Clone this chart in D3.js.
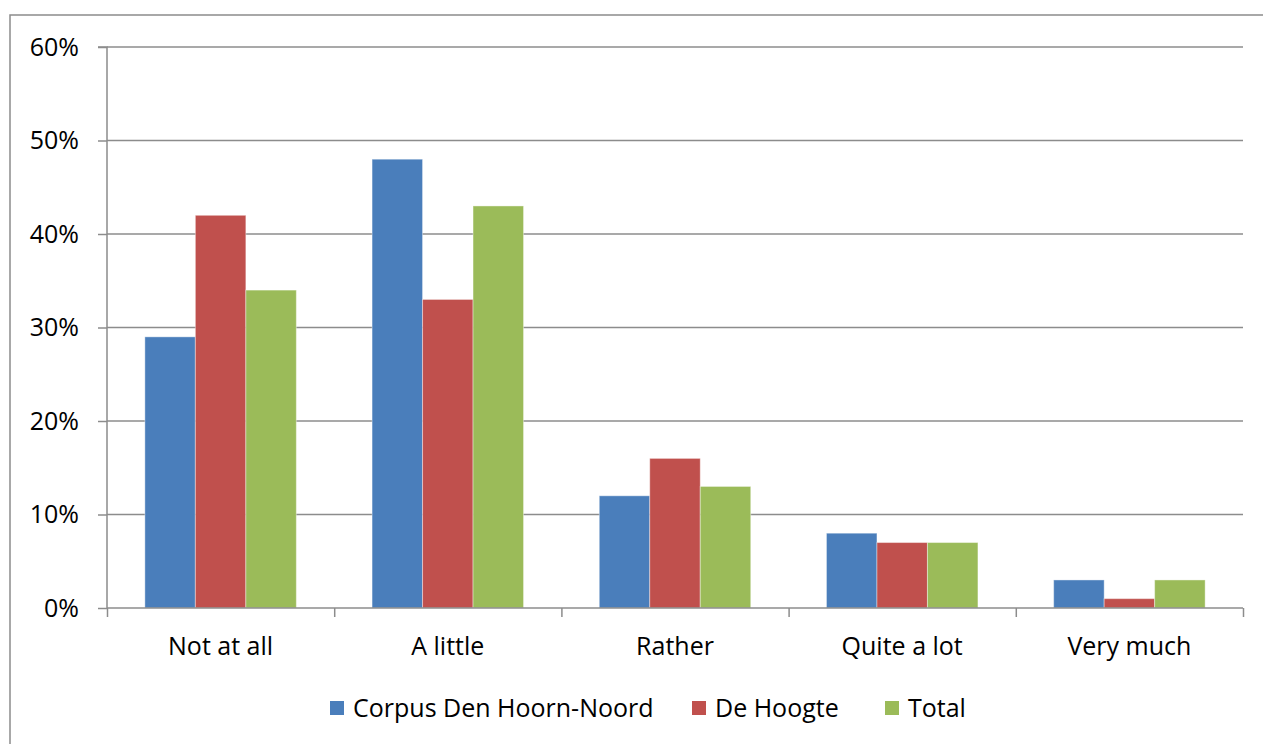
<!DOCTYPE html>
<html><head><meta charset="utf-8">
<script src="https://cdn.jsdelivr.net/npm/d3@7"></script>
<style>html,body{margin:0;padding:0;background:#fff;}svg{display:block;}</style>
</head><body>
<svg id="c" width="1263" height="744"></svg>
<script>
const categories = ["Not at all", "A little", "Rather", "Quite a lot", "Very much"];
const seriesNames = ["Corpus Den Hoorn-Noord", "De Hoogte", "Total"];
const corpus = [29, 48, 12, 8, 3];
const deHoogte = [42, 33, 16, 7, 1];
const total = [34, 43, 13, 7, 3];
const yTicks = [0, 10, 20, 30, 40, 50, 60];
const colors = ["#4A7EBB", "#C0504D", "#9BBB59"];

const series = [corpus, deHoogte, total];
const svg = d3.select("#c");
const font = "'Open Sans', sans-serif";
const fs = 25;
const L = 107, R = 1243, T = 47, B = 608;

// outer border
svg.append("rect").attr("x", 10).attr("y", 15).attr("width", 1300).attr("height", 800)
  .attr("fill", "none").attr("stroke", "#8c8c8c").attr("stroke-width", 1.5);

const y = d3.scaleLinear().domain([0, 60]).range([B, T]);
const x0 = d3.scaleBand().domain(categories).range([L, R]).paddingInner(1/3).paddingOuter(1/6);
const x1 = d3.scaleBand().domain([0,1,2]).range([0, x0.bandwidth()]);

// gridlines
svg.append("g").selectAll("line").data(yTicks.filter(d => d > 0)).join("line")
  .attr("x1", L).attr("x2", R).attr("y1", d => y(d)).attr("y2", d => y(d))
  .attr("stroke", "#8c8c8c").attr("stroke-width", 1.5);

// bars
const groups = svg.append("g").selectAll("g").data(categories).join("g")
  .attr("transform", d => `translate(${x0(d)},0)`);
groups.selectAll("rect").data((d, i) => series.map((s, k) => ({k, v: s[i]}))).join("rect")
  .attr("x", d => x1(d.k)).attr("width", x1.bandwidth())
  .attr("y", d => y(d.v)).attr("height", d => B - y(d.v))
  .attr("fill", d => colors[d.k])
  .attr("stroke", "rgba(255,255,255,0.4)").attr("stroke-width", 1);

// y axis
const yAxis = d3.axisLeft(y).tickValues(yTicks).tickFormat(d => d + "%").tickSize(9).tickPadding(19);
const gy = svg.append("g").attr("transform", `translate(${L},0)`).call(yAxis);
gy.select(".domain").attr("stroke", "#8c8c8c").attr("stroke-width", 1.5).attr("d", `M-9,${T}H0V${B}`);
gy.selectAll(".tick line").attr("stroke", "#8c8c8c").attr("stroke-width", 1.5);
gy.selectAll(".tick text").attr("font-family", font).attr("font-size", fs).attr("fill", "#000");

// x axis
const xb = d3.scaleLinear().domain([0, categories.length]).range([L, R]);
const xAxis = d3.axisBottom(xb).tickValues(d3.range(categories.length + 1)).tickFormat("").tickSize(9);
const gx = svg.append("g").attr("transform", `translate(0,${B})`).call(xAxis);
gx.select(".domain").attr("stroke", "#8c8c8c").attr("stroke-width", 1.5).attr("d", `M${L},0H${R}`);
gx.selectAll(".tick line").attr("stroke", "#8c8c8c").attr("stroke-width", 1.5);
svg.append("g").selectAll("text").data(categories).join("text")
  .attr("x", d => x0(d) + x0.bandwidth() / 2).attr("y", 655)
  .attr("text-anchor", "middle").attr("font-family", font).attr("font-size", fs).attr("fill", "#000")
  .text(d => d);

// legend
const legendX = [330, 692, 885];
const lg = svg.append("g").selectAll("g").data(seriesNames).join("g")
  .attr("transform", (d, i) => `translate(${legendX[i]},701)`);
lg.append("rect").attr("width", 14).attr("height", 14).attr("fill", (d, i) => colors[i]);
lg.append("text").attr("x", 23).attr("y", 16).attr("font-family", font).attr("font-size", fs).attr("fill", "#000").text(d => d);
</script>
</body></html>
